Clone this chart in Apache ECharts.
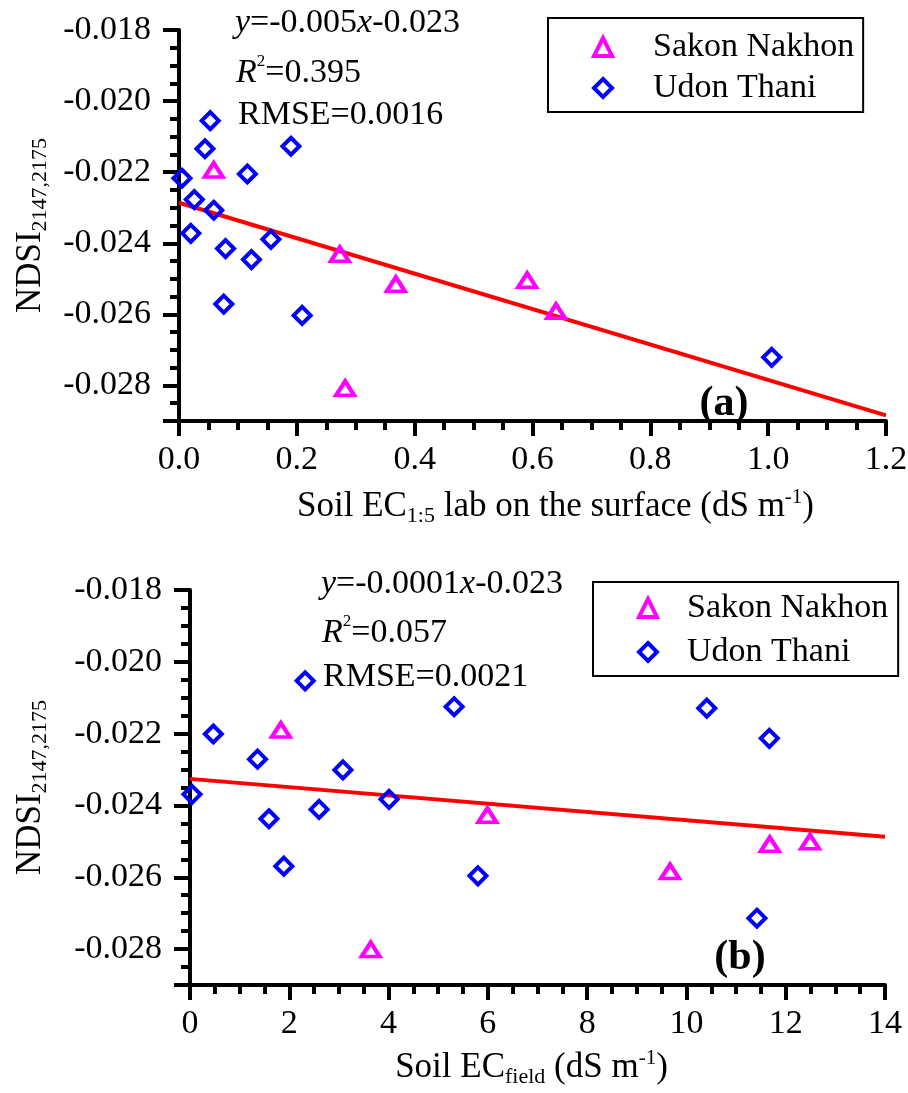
<!DOCTYPE html>
<html><head><meta charset="utf-8">
<script src="https://cdn.jsdelivr.net/npm/echarts@6/dist/echarts.min.js"></script>
<style>html,body{margin:0;padding:0;background:#fff}#c{width:908px;height:1093px}</style>
</head><body><div id="c"></div>
<script>
// ---------- Panel (a): Soil EC1:5 lab on the surface ----------
const sakonA_x = [0.059, 0.273, 0.368, 0.591, 0.640, 0.282];
const sakonA_y = [-0.02194, -0.02431, -0.02515, -0.02504, -0.02591, -0.02808];
const udonA_x = [0.005, 0.053, 0.044, 0.026, 0.059, 0.020, 0.079, 0.076, 0.116, 0.123, 0.156, 0.190, 0.209, 1.006];
const udonA_y = [-0.02217, -0.02055, -0.02134, -0.02277, -0.02307, -0.02372, -0.02415, -0.02571, -0.02205, -0.02446, -0.02389, -0.02127, -0.02603, -0.02721];
const trendA_x = [0, 1.2];
const trendA_y = [-0.02286, -0.02884];
// ---------- Panel (b): Soil EC field ----------
const sakonB_x = [1.83, 3.64, 5.99, 9.67, 11.68, 12.49];
const sakonB_y = [-0.02190, -0.02801, -0.02427, -0.02584, -0.02508, -0.02501];
const udonB_x = [2.32, 0.47, 1.36, 3.08, 0.04, 2.60, 1.59, 4.01, 1.89, 5.32, 5.80, 10.41, 11.67, 11.42];
const udonB_y = [-0.02053, -0.02201, -0.02271, -0.02301, -0.02369, -0.02411, -0.02437, -0.02383, -0.02569, -0.02125, -0.02596, -0.02129, -0.02213, -0.02714];
const trendB_x = [0, 14];
const trendB_y = [-0.02326, -0.02487];
// ---------- axis settings ----------
const yMin = -0.029, yMax = -0.018, yMajor = 0.002, yMinor = 0.0005;
const xA = {min: 0, max: 1.2, interval: 0.2};
const xB = {min: 0, max: 14, interval: 2};
const legendNames = ['Sakon Nakhon', 'Udon Thani'];

const FONT = 'Liberation Serif';
const zip = (xs, ys) => xs.map((x, i) => [x, ys[i]]);
function ts(size, extra) { return Object.assign({fontFamily: FONT, fontSize: size, color: '#000'}, extra || {}); }
const titleRich = {
  m: ts(35, {lineHeight: 40, verticalAlign: 'middle'}),
  sub: ts(22, {lineHeight: 6, verticalAlign: 'bottom'}),
  sup: ts(21, {lineHeight: 22, verticalAlign: 'top'})
};
const AX = {color: '#000', width: 4};

function xAxisCfg(grid, r, name, gap, pad, dec) {
  return {
    gridIndex: grid, type: 'value', min: r.min, max: r.max, interval: r.interval,
    axisLine: {show: true, onZero: false, lineStyle: AX},
    axisTick: {show: true, length: 15, lineStyle: AX},
    minorTick: {show: true, splitNumber: 4, length: 9, lineStyle: AX},
    splitLine: {show: false}, minorSplitLine: {show: false},
    axisLabel: Object.assign(ts(34), {margin: 22, formatter: v => v.toFixed(dec)}),
    name: name, nameLocation: 'middle', nameGap: gap,
    nameTextStyle: {rich: titleRich, padding: pad}
  };
}
function yAxisMain(grid, gap) {
  return {
    gridIndex: grid, type: 'value', position: 'left', min: yMin, max: yMax, interval: yMinor,
    axisLine: {show: true, onZero: false, lineStyle: AX},
    axisTick: {show: true, length: 9, lineStyle: AX},
    splitLine: {show: false},
    axisLabel: Object.assign(ts(34), {margin: 28,
      formatter: v => (Math.round(v * 10000) % Math.round(yMajor * 10000) === 0) ? v.toFixed(3) : ''}),
    name: '{m|NDSI}{sub|2147,2175}', nameLocation: 'middle', nameRotate: 90, nameGap: gap,
    nameTextStyle: {rich: titleRich}
  };
}
// decoration axis for the long (major) ticks: same scale, sign flipped & inverted
function yAxisMajorTicks(grid) {
  return {
    gridIndex: grid, type: 'value', position: 'left', inverse: true,
    min: -yMax, max: -yMin, interval: yMajor,
    axisLine: {show: false}, axisTick: {show: true, length: 16, lineStyle: AX},
    axisLabel: {show: false}, splitLine: {show: false}
  };
}
const triStyle = {color: 'rgba(255,255,255,0)', borderColor: '#ff00ff', borderWidth: 4, opacity: 1};
const diaStyle = {color: 'rgba(255,255,255,0)', borderColor: '#0000ff', borderWidth: 4, opacity: 1};
function scatter(name, data, xi, yi, symbol, size, style) {
  return {name, type: 'scatter', xAxisIndex: xi, yAxisIndex: yi, data, symbol, symbolSize: size,
    itemStyle: style, emphasis: {disabled: true}, z: 3};
}
function trend(data, xi, yi) {
  return {type: 'line', xAxisIndex: xi, yAxisIndex: yi, data, showSymbol: false, symbol: 'none',
    lineStyle: {color: '#ff0000', width: 4, opacity: 1}, emphasis: {disabled: true}, z: 2};
}
function legendCfg(left, top, gap, pad, textPad) {
  return {
    left, top, orient: 'vertical', data: legendNames, selectedMode: false,
    itemWidth: 18, itemHeight: 18, itemGap: gap, padding: pad,
    borderColor: '#000', borderWidth: 2, backgroundColor: '#fff',
    itemStyle: {borderWidth: 4, opacity: 1},
    textStyle: ts(34, {lineHeight: 36, padding: [0, 0, 0, textPad]})
  };
}
const gRich = {
  n: {fontFamily: FONT, fontSize: 34, fill: '#000', lineHeight: 40, verticalAlign: 'middle'},
  i: {fontFamily: FONT, fontSize: 34, fontStyle: 'italic', fill: '#000', lineHeight: 40, verticalAlign: 'middle'},
  sup: {fontFamily: FONT, fontSize: 17, fill: '#000', lineHeight: 18, verticalAlign: 'top'}
};
function note(x, y, text) {
  return {type: 'text', x, y, style: {text, rich: gRich, fontFamily: FONT, fontSize: 34, fill: '#000', verticalAlign: 'middle', align: 'left'}};
}
function tag(x, y, text) {
  return {type: 'text', x, y, style: {text, fontFamily: FONT, fontSize: 42, fontWeight: 'bold', fill: '#000', align: 'center', verticalAlign: 'middle'}};
}

const chart = echarts.init(document.getElementById('c'), null, {renderer: 'canvas'});
chart.setOption({
  animation: false,
  backgroundColor: '#fff',
  grid: [
    {left: 179, right: 22, top: 30, height: 391, outerBoundsMode: 'none', containLabel: false},
    {left: 190, right: 23, top: 590, height: 395, outerBoundsMode: 'none', containLabel: false}
  ],
  xAxis: [
    xAxisCfg(0, xA, '{m|Soil EC}{sub|1:5}{m| lab on the surface (dS m}{sup|-1}{m|)}', 66, [0, 0, 0, 46], 1),
    xAxisCfg(1, xB, '{m|Soil EC}{sub|field}{m| (dS m}{sup|-1}{m|)}', 63, [0, 12, 0, 0], 0)
  ],
  yAxis: [yAxisMain(0, 128), yAxisMajorTicks(0), yAxisMain(1, 139), yAxisMajorTicks(1)],
  legend: [
    legendCfg(548, 18, 5, [11, 9, 6, 44], 36),
    legendCfg(593, 582, 8, [8, 10, 6, 44], 25)
  ],
  series: [
    trend(zip(trendA_x, trendA_y), 0, 0),
    scatter('Sakon Nakhon', zip(sakonA_x, sakonA_y), 0, 0, 'triangle', [18, 14], triStyle),
    scatter('Udon Thani', zip(udonA_x, udonA_y), 0, 0, 'diamond', [17, 17], diaStyle),
    trend(zip(trendB_x, trendB_y), 1, 2),
    scatter('Sakon Nakhon', zip(sakonB_x, sakonB_y), 1, 2, 'triangle', [18, 14], triStyle),
    scatter('Udon Thani', zip(udonB_x, udonB_y), 1, 2, 'diamond', [17, 17], diaStyle)
  ],
  graphic: [
    note(235, 23, '{i|y}{n|=-0.005}{i|x}{n|-0.023}'),
    note(236, 73, '{i|R}{sup|2}{n|=0.395}'),
    note(238, 115, '{n|RMSE=0.0016}'),
    note(321, 584, '{i|y}{n|=-0.0001}{i|x}{n|-0.023}'),
    note(322, 633, '{i|R}{sup|2}{n|=0.057}'),
    note(323, 677, '{n|RMSE=0.0021}'),
    tag(724, 404, '(a)'),
    tag(740, 958, '(b)')
  ]
});
</script></body></html>
